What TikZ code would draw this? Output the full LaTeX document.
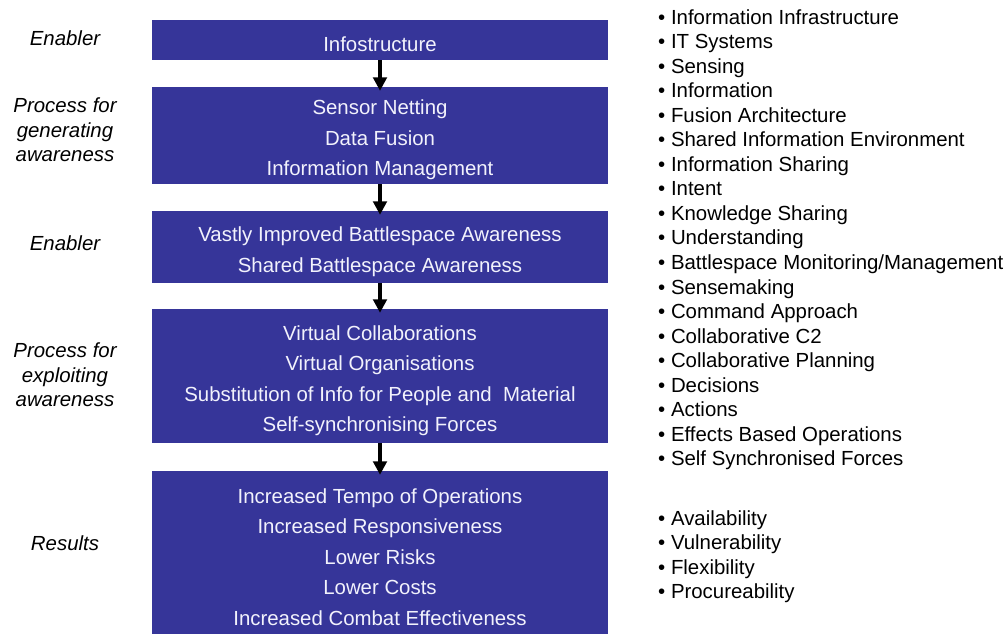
\documentclass[tikz,border=0pt]{standalone}
\usepackage{fontspec}
\setmainfont{Liberation Sans}
\usetikzlibrary{arrows.meta}
\definecolor{boxblue}{RGB}{54,53,153}
\definecolor{boxtext}{RGB}{242,242,252}
\tikzset{
  stage/.style={fill=boxblue, minimum width=456pt, inner sep=0pt},
  lines/.style={text=boxtext, align=center, inner sep=0pt, yshift=-4.5pt,
    font=\fontsize{20.4}{30.5}\selectfont},
  flow/.style={line width=4.5pt, -{Triangle[width=13.5pt,length=13.5pt]}, shorten >=-4pt},
  role/.style={align=center, font=\fontsize{20.4}{24.5}\selectfont\itshape},
  item/.style={anchor=base west, inner sep=0pt, font=\fontsize{20.4}{24}\selectfont}
}
\begin{document}
\begin{tikzpicture}[x=1pt,y=-1pt]
    \useasboundingbox (0,0) rectangle (1008,635);

    % the five stages
    \node[stage, minimum height=40pt, label={[lines]center:Infostructure}]
        (infra) at (380,40) {};
    \node[stage, minimum height=97pt,
        label={[lines]center:{Sensor Netting\\Data Fusion\\Information Management}}]
        (gen) at (380,135.5) {};
    \node[stage, minimum height=72pt,
        label={[lines]center:{Vastly Improved Battlespace Awareness\\Shared Battlespace Awareness}}]
        (aware) at (380,247) {};
    \node[stage, minimum height=134pt,
        label={[lines]center:{Virtual Collaborations\\Virtual Organisations\\Substitution of Info for People and\ \ Material\\Self-synchronising Forces}}]
        (exploit) at (380,376) {};
    \node[stage, minimum height=163pt,
        label={[lines]center:{Increased Tempo of Operations\\Increased Responsiveness\\Lower Risks\\Lower Costs\\Increased Combat Effectiveness}}]
        (results) at (380,552.5) {};

    \draw[flow] (infra) -- (gen);
    \draw[flow] (gen) -- (aware);
    \draw[flow] (aware) -- (exploit);
    \draw[flow] (exploit) -- (results);

    % roles on the left
    \node[role] (role1) at (65,38)  {Enabler};
    \node[role] (role2) at (65,130) {Process for\\generating\\awareness};
    \node[role] (role3) at (65,243) {Enabler};
    \node[role] (role4) at (65,375) {Process for\\exploiting\\awareness};
    \node[role] (role5) at (65,543) {Results};

    % lists on the right
    \foreach \t [count=\i from 0] in {Information Infrastructure, IT Systems, Sensing,
        Information, Fusion Architecture, Shared Information Environment,
        Information Sharing, Intent, Knowledge Sharing, Understanding,
        Battlespace Monitoring/Management, Sensemaking, Command Approach,
        Collaborative C2, Collaborative Planning, Decisions, Actions,
        Effects Based Operations, Self Synchronised Forces}
        {\node[item] (need\i) at (658,24+24.55*\i) {• \t};}
    \foreach \t [count=\i from 0] in {Availability, Vulnerability, Flexibility, Procureability}
        {\node[item] (attr\i) at (658,525+24.6*\i) {• \t};}
\end{tikzpicture}
\end{document}
